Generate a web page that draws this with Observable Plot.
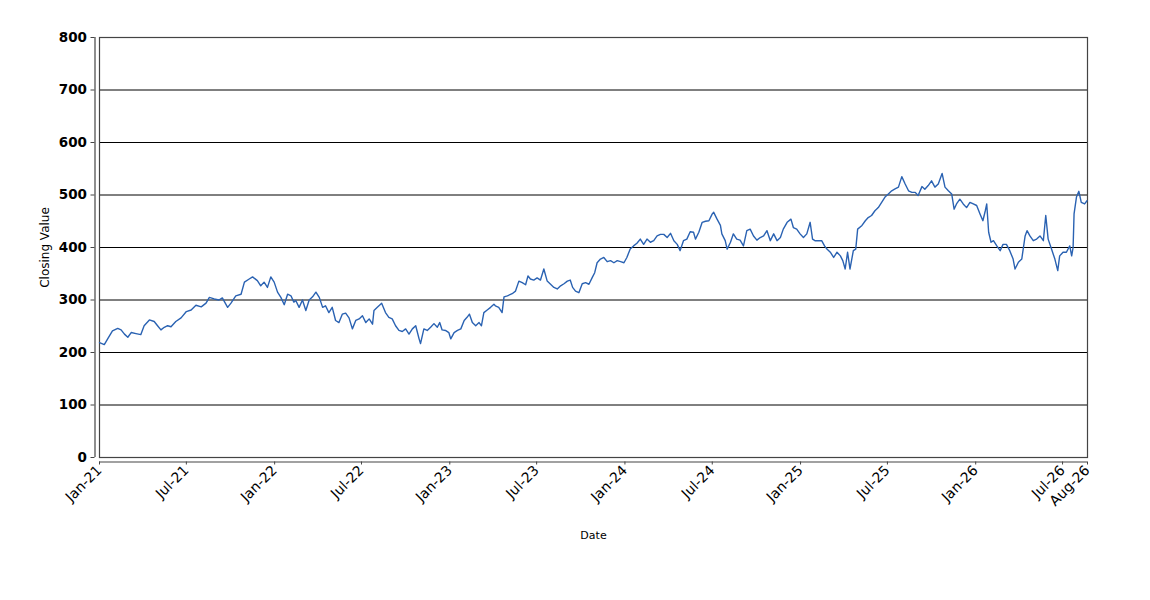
<!DOCTYPE html>
<html>
<head>
<meta charset="utf-8">
<script src="https://cdn.jsdelivr.net/npm/d3@7"></script>
<script src="https://cdn.jsdelivr.net/npm/@observablehq/plot@0.6"></script>
<style>
  html, body { margin: 0; padding: 0; background: #fff; }
  #chart svg { display: block; }
</style>
</head>
<body>
<div id="chart"></div>
<script>
const dates = [
"2021-01-01","2021-01-11","2021-01-18","2021-01-28","2021-02-08","2021-02-15","2021-02-22","2021-03-01","2021-03-08","2021-03-18","2021-03-28",
"2021-04-04","2021-04-15","2021-04-25","2021-05-02","2021-05-09","2021-05-16","2021-05-23","2021-05-30","2021-06-09","2021-06-20","2021-07-01",
"2021-07-11","2021-07-21","2021-08-01","2021-08-11","2021-08-18","2021-08-28","2021-09-07","2021-09-14","2021-09-25","2021-10-02","2021-10-12",
"2021-10-23","2021-10-30","2021-11-09","2021-11-16","2021-11-26","2021-12-03","2021-12-10","2021-12-17","2021-12-24","2021-12-31",
"2022-01-07","2022-01-14","2022-01-21","2022-01-28","2022-02-04","2022-02-10","2022-02-14","2022-02-21","2022-02-28","2022-03-07","2022-03-14",
"2022-03-21","2022-03-28","2022-04-04","2022-04-11","2022-04-17","2022-04-24","2022-05-01","2022-05-08","2022-05-15","2022-05-22","2022-05-29",
"2022-06-05","2022-06-12","2022-06-19","2022-06-26","2022-07-03","2022-07-10","2022-07-17","2022-07-24","2022-07-27","2022-08-03","2022-08-12",
"2022-08-20","2022-08-27","2022-09-03","2022-09-10","2022-09-17","2022-09-24","2022-10-01","2022-10-08","2022-10-15","2022-10-22","2022-10-29",
"2022-11-01","2022-11-08","2022-11-15","2022-11-22","2022-11-29","2022-12-06","2022-12-11","2022-12-16","2022-12-23","2022-12-30",
"2023-01-03","2023-01-10","2023-01-17","2023-01-24","2023-01-31","2023-02-06","2023-02-11","2023-02-17","2023-02-24","2023-03-03","2023-03-08",
"2023-03-13","2023-03-20","2023-03-27","2023-04-03","2023-04-06","2023-04-13","2023-04-20","2023-04-24","2023-05-01","2023-05-11","2023-05-18",
"2023-05-25","2023-06-01","2023-06-08","2023-06-13","2023-06-18","2023-06-25","2023-07-02","2023-07-09","2023-07-16","2023-07-23","2023-07-30",
"2023-08-06","2023-08-13","2023-08-20","2023-08-27","2023-09-03","2023-09-09","2023-09-14","2023-09-20","2023-09-27","2023-10-04","2023-10-11",
"2023-10-18","2023-10-25","2023-10-30","2023-11-04","2023-11-11","2023-11-18","2023-11-25","2023-12-02","2023-12-09","2023-12-16","2023-12-23",
"2023-12-30","2024-01-05","2024-01-12","2024-01-19","2024-01-26","2024-02-02","2024-02-09","2024-02-16","2024-02-23","2024-03-01","2024-03-08",
"2024-03-15","2024-03-22","2024-03-29","2024-04-05","2024-04-12","2024-04-19","2024-04-25","2024-05-02","2024-05-09","2024-05-16","2024-05-23",
"2024-05-27","2024-06-03","2024-06-10","2024-06-17","2024-06-24","2024-07-01","2024-07-04","2024-07-11","2024-07-18","2024-07-21","2024-07-28",
"2024-08-01","2024-08-08","2024-08-14","2024-08-21","2024-08-28","2024-09-04","2024-09-11","2024-09-18","2024-09-25","2024-10-02","2024-10-09",
"2024-10-16","2024-10-23","2024-10-30","2024-11-06","2024-11-13","2024-11-20","2024-11-26","2024-12-04","2024-12-12","2024-12-17","2024-12-24",
"2024-12-31","2025-01-07","2025-01-14","2025-01-21","2025-01-26","2025-01-31","2025-02-07","2025-02-14","2025-02-20","2025-02-25","2025-03-04",
"2025-03-11","2025-03-18","2025-03-25","2025-03-30","2025-04-04","2025-04-09","2025-04-14","2025-04-21","2025-04-26","2025-04-30","2025-05-09",
"2025-05-16","2025-05-22","2025-05-29","2025-06-05","2025-06-12","2025-06-19","2025-06-26","2025-07-03","2025-07-10","2025-07-16","2025-07-24",
"2025-07-31","2025-08-07","2025-08-14","2025-08-21","2025-08-28","2025-09-03","2025-09-11","2025-09-17","2025-09-24","2025-10-01","2025-10-08",
"2025-10-15","2025-10-23","2025-10-29","2025-11-05","2025-11-12","2025-11-17","2025-11-22","2025-11-29","2025-12-06","2025-12-13","2025-12-20",
"2025-12-27","2026-01-03","2026-01-10","2026-01-16","2026-01-21","2026-01-24","2026-01-28","2026-02-02","2026-02-07","2026-02-14","2026-02-21",
"2026-02-27","2026-03-06","2026-03-13","2026-03-20","2026-03-24","2026-03-31","2026-04-07","2026-04-14","2026-04-18","2026-04-24","2026-05-01",
"2026-05-08","2026-05-15","2026-05-22","2026-05-27","2026-06-01","2026-06-08","2026-06-15","2026-06-21","2026-06-25","2026-07-02","2026-07-09",
"2026-07-16","2026-07-20","2026-07-23","2026-07-25","2026-07-30","2026-08-04","2026-08-09","2026-08-16","2026-08-21"
];

const closingValues = [
219,215,226,241,246,243,235,229,238,236,234,
251,262,259,251,243,248,251,249,259,266,278,
281,290,287,294,305,302,300,304,286,294,308,
311,334,340,344,337,327,334,324,344,334,
315,305,291,311,308,296,299,286,300,280,300,
306,315,305,286,289,276,286,261,257,273,275,
266,245,261,264,270,257,264,254,280,286,294,
276,267,264,251,242,240,245,235,245,251,226,
217,245,242,248,255,248,257,243,242,238,
226,238,242,245,261,267,273,257,251,257,251,
276,281,286,292,289,286,276,306,308,312,317,
336,333,329,346,340,338,342,338,359,336,330,
324,321,327,331,336,338,324,317,314,331,333,
330,343,352,371,378,381,373,375,371,375,373,
371,381,397,403,408,416,406,416,410,413,422,
425,425,419,427,413,406,394,413,416,430,429,
416,429,448,450,451,464,467,454,442,426,413,
397,410,426,416,414,403,432,435,422,414,419,
422,432,413,426,413,419,435,448,454,438,435,
426,419,426,448,416,413,413,413,403,397,391,
381,391,384,375,359,391,359,394,397,435,442,
451,457,461,470,476,486,496,502,508,511,515,
535,521,508,505,505,499,516,511,518,527,515,
521,541,515,508,502,473,483,492,483,476,486,
483,480,464,451,470,483,429,410,413,403,394,
406,406,394,378,359,372,378,422,432,422,413,
416,422,413,461,416,397,378,356,384,391,391,
403,384,400,464,496,507,486,483,489
];

const yTicks = [0, 100, 200, 300, 400, 500, 600, 700, 800];
const xTickDates = ["2021-01-01","2021-07-01","2022-01-01","2022-07-01","2023-01-01","2023-07-01",
  "2024-01-01","2024-07-01","2025-01-01","2025-07-01","2026-01-01","2026-07-01","2026-08-22"];
const xDomain = ["2021-01-01", "2026-08-22"];
const yDomain = [0, 800];

const data = dates.map((d, i) => ({date: new Date(d), value: closingValues[i]}));
const fmt = d3.utcFormat("%b-%y");

const chart = Plot.plot({
  width: 1150,
  height: 600,
  marginTop: 37,
  marginBottom: 143,
  marginLeft: 99,
  marginRight: 63,
  style: {fontFamily: "DejaVu Sans, Verdana, sans-serif", fontSize: "14px", color: "#000", background: "#fff"},
  x: {type: "utc", domain: xDomain.map(d => new Date(d))},
  y: {domain: yDomain},
  marks: [
    Plot.gridY(yTicks, {stroke: "#000", strokeOpacity: 1, strokeWidth: 1}),
    Plot.frame({stroke: "#444", strokeWidth: 1.2}),
    Plot.line(data, {x: "date", y: "value", stroke: "#2a62b2", strokeWidth: 1.4}),
    Plot.ruleY([0], {dy: 4.5, stroke: "#444", strokeWidth: 1.2}),
    Plot.ruleX([new Date(xDomain[0])], {dx: -4.5, stroke: "#444", strokeWidth: 1.2}),
    Plot.axisX(xTickDates.map(d => new Date(d)), {
      tickFormat: fmt, tickRotate: -45, tickSize: 3, tickPadding: 3, dy: 4.5,
      stroke: "#444", fontSize: 14, label: null
    }),
    Plot.axisY(yTicks, {
      tickSize: 4, tickPadding: 4, dx: -4.5, stroke: "#444",
      fontSize: 13.5, fontWeight: "bold", label: null
    }),
    Plot.text(["Date"], {frameAnchor: "bottom", dy: 81, fontSize: 11, fill: "#000"}),
    Plot.text(["Closing Value"], {frameAnchor: "left", textAnchor: "middle", dx: -54, rotate: -90, fontSize: 12, fill: "#000"})
  ]
});
document.getElementById("chart").appendChild(chart);
</script>
</body>
</html>
